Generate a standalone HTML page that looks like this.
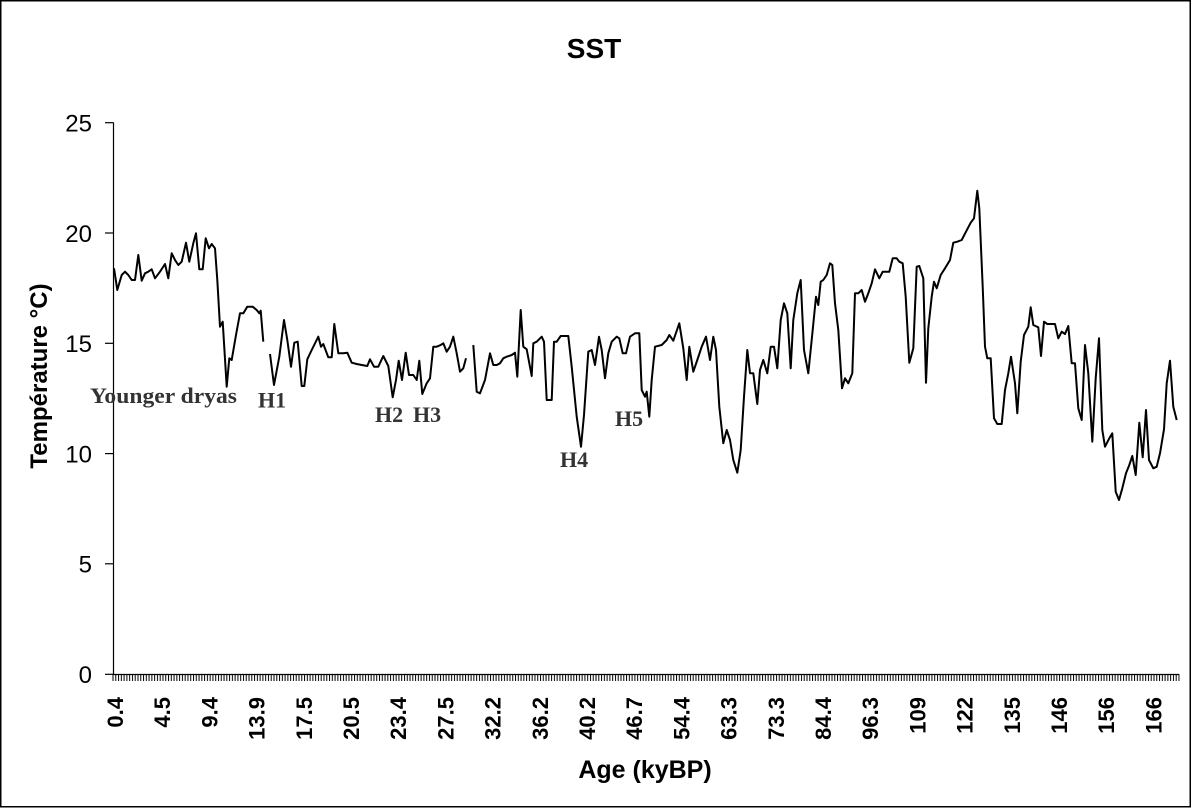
<!DOCTYPE html>
<html>
<head>
<meta charset="utf-8">
<style>
html,body{margin:0;padding:0;background:#fff;}
svg{display:block;}
text{font-family:"Liberation Sans",Arial,sans-serif;}
.ann{font-family:"Liberation Serif","Times New Roman",serif;font-weight:bold;font-size:22px;fill:#333;}
.yl{font-size:24px;fill:#000;}
.xl{font-size:22px;font-weight:bold;fill:#000;}
</style>
</head>
<body>
<svg width="1193" height="808" viewBox="0 0 1193 808" xmlns="http://www.w3.org/2000/svg">
<defs>
<pattern id="tk" x="112.5" y="674" width="2.776" height="8" patternUnits="userSpaceOnUse">
<rect x="0" y="0" width="1" height="8" fill="#000"/>
</pattern>
</defs>
<rect x="0" y="0" width="1193" height="808" fill="#fff"/>
<rect x="0.75" y="0.75" width="1189.5" height="806" fill="none" stroke="#000" stroke-width="1.5"/>

<text x="594" y="58" text-anchor="middle" font-size="28" font-weight="bold">SST</text>

<!-- Y axis -->
<line x1="113.5" y1="122.5" x2="113.5" y2="675" stroke="#000" stroke-width="1.2"/>
<g stroke="#000" stroke-width="1.2">
<line x1="105" y1="122.7" x2="113.5" y2="122.7"/>
<line x1="105" y1="233" x2="113.5" y2="233"/>
<line x1="105" y1="343.3" x2="113.5" y2="343.3"/>
<line x1="105" y1="453.6" x2="113.5" y2="453.6"/>
<line x1="105" y1="563.8" x2="113.5" y2="563.8"/>
<line x1="105" y1="674.3" x2="113.5" y2="674.3"/>
</g>
<g class="yl" text-anchor="end">
<text x="92" y="131.5">25</text>
<text x="92" y="241.8">20</text>
<text x="92" y="352.1">15</text>
<text x="92" y="462.4">10</text>
<text x="92" y="572.6">5</text>
<text x="92" y="683">0</text>
</g>
<text transform="translate(47,376) rotate(-90)" text-anchor="middle" font-size="24" font-weight="bold">Température °C)</text>

<!-- X axis -->
<line x1="113" y1="674.5" x2="1179" y2="674.5" stroke="#000" stroke-width="1.2"/>
<rect x="112.5" y="674" width="1067" height="7" fill="url(#tk)"/>
<g class="xl" text-anchor="end">
<text transform="translate(123,697) rotate(-90)">0.4</text>
<text transform="translate(170.2,697) rotate(-90)">4.5</text>
<text transform="translate(217.4,697) rotate(-90)">9.4</text>
<text transform="translate(264.6,697) rotate(-90)">13.9</text>
<text transform="translate(311.8,697) rotate(-90)">17.5</text>
<text transform="translate(359,697) rotate(-90)">20.5</text>
<text transform="translate(406.2,697) rotate(-90)">23.4</text>
<text transform="translate(453.4,697) rotate(-90)">27.5</text>
<text transform="translate(500.6,697) rotate(-90)">32.2</text>
<text transform="translate(547.8,697) rotate(-90)">36.2</text>
<text transform="translate(595,697) rotate(-90)">40.2</text>
<text transform="translate(642.2,697) rotate(-90)">46.7</text>
<text transform="translate(689.4,697) rotate(-90)">54.4</text>
<text transform="translate(736.6,697) rotate(-90)">63.3</text>
<text transform="translate(783.8,697) rotate(-90)">73.3</text>
<text transform="translate(831,697) rotate(-90)">84.4</text>
<text transform="translate(878.2,697) rotate(-90)">96.3</text>
<text transform="translate(925.4,697) rotate(-90)">109</text>
<text transform="translate(972.6,697) rotate(-90)">122</text>
<text transform="translate(1019.8,697) rotate(-90)">135</text>
<text transform="translate(1067,697) rotate(-90)">146</text>
<text transform="translate(1114.2,697) rotate(-90)">156</text>
<text transform="translate(1161.4,697) rotate(-90)">166</text>
</g>
<text x="645" y="778" text-anchor="middle" font-size="25" font-weight="bold">Age (kyBP)</text>

<!-- series -->
<g fill="none" stroke="#000" stroke-width="2" stroke-linejoin="round">
<polyline points="114,268.3 117.3,290 121.7,275 125,271.7 128.3,275 131.7,280 135,280 138.3,255 141.7,280.7 145,273.3 148.3,271.7 151.7,269.3 155,278.3 160,271.7 165,264 168.3,278.3 171.7,253.3 175,260 178.3,265 181.7,261.7 186,242.7 189.3,261.7 193.3,243.3 196,233.3 199.3,269.3 202.7,269.3 205.7,238.3 209,248.3 211.7,244 215,248.3 217.3,280 220,326.7 222.7,321.7 226.7,386.7 229.3,358.3 231.7,360 236,335 240,313.3 243.3,313.3 247.3,306.7 252.7,306.7 256.7,310 259.3,313.3 260.7,310.7 263.3,341.7"/>
<polyline points="270,354 274,385 279.3,356.7 284,320 287.3,340 291,366.7 294.3,342.7 297.7,341.7 301.7,386 304.3,386 307.3,359.3 311.7,350 318.3,336.7 321,346.7 323.3,344 328.3,357.3 331.7,357.3 334.3,324 338.3,353.3 343.3,353.3 347.3,352.7 351.7,362.7 356.7,364 361.7,365 367.3,366 370,359.3 374,366.7 378.3,366.7 383.3,356 388.3,366 392.7,397.3 396,380 398.7,360.7 402,380 405.7,352.7 409,375 413.3,375 416.7,380 419.3,360.7 422.3,394 426.7,383.3 430,378.3 433.3,346.7 436.7,346.7 440.7,345 443.3,343.3 446.7,351.7 450,346.7 453.3,336.7 456.7,353.3 460,371.7 463.3,368.3 466,358.3"/>
<polyline points="473.3,345 476.7,391.7 480,393.3 485,380 490,353.3 493.3,365 496.7,365 500,363.3 503.3,358.3 506.7,356.7 511.7,355 515,352.7 517.3,376.7 520.7,310 523.3,346.7 526.7,349.3 531.7,376 533.3,343.3 536.7,341.7 541.7,336.7 544,341.7 546.7,400 551.7,400 554,341.7 556.7,341.7 560.7,336 568.3,336 571.7,366.7 576.7,416.7 581,446.7 584,415 588.3,351.7 591.7,350 595,365 599,336.7 601.7,350 605,378.3 608.3,353.3 611.7,341.7 616.7,336.7 619.3,338.3 622.7,353.3 626,353.3 630,336.7 635,333.3 639.3,333.3 641.7,390 645,396.7 646.7,391.7 649.3,416.7 651.7,380 655,346.7 661.7,345 666.7,340 669.3,335 673.3,340.7 679.3,323.3 683.3,348.3 686.7,380 689.3,346.7 693.3,371.7 697.3,360 701.7,346.7 706,336.7 710,360 713.3,336.7 716,350 719.3,406.7 723.3,443.3 726.7,430 730,440 733.3,460 737.3,472.7 740.7,450 744,396.7 747.3,350 750,373.3 753.3,373.3 757.3,404 760,370 763.3,360 767.3,373.3 770.7,346.7 774,346.7 777.3,368.3 780.7,320 784,303.3 787.3,313.3 790.7,368.3 793.3,320 797.3,293.3 800.7,280 804,350 808.3,373.3 812.7,330 816,296.7 818.3,305 820.7,281.7 823.3,280 826.7,275 830,263.3 832.3,265 835,303.3 838.3,330 842,388.3 845,378.3 848.3,383.3 852.3,373.3 855,293.3 858.3,293.3 861.7,290 865,301.7 868.3,293.3 871.7,283.3 875,269.3 879.3,278.3 882.7,271.7 889.3,271.7 892.7,258.3 896.7,258.3 899.3,261.7 902.7,263.3 905.7,296.7 909.3,362.7 913.3,348.3 916.7,266.7 919.3,266 923.3,278.3 926,382.7 928.3,328.3 931.7,296.7 934,281.7 936.7,288.3 940.7,275 945,268.3 950,260 953.3,242.7 957.3,241.7 961.7,240 966,231.7 970.7,222.7 974,218.3 977.3,190.7 979.3,208.3 982.7,286.7 985,346.7 987.3,358.3 990.7,358.3 994,418.3 997.3,424 1001.7,424 1005,390 1008.3,373.3 1011,356.7 1015,383.3 1017.3,413.3 1020.7,361.7 1024,335 1028.3,326.7 1030.7,307.3 1033.3,325 1038.3,327.3 1041,356 1044,321.7 1047.3,324 1055,324 1058.3,338.3 1061.7,331.7 1065,334 1068.3,326 1071.7,363.3 1075,363.3 1078.3,408.3 1081.7,420 1085,345 1088.3,373.3 1092.3,441.7 1095.7,378.3 1099,338.3 1102.3,430 1105,446.7 1109.3,438.3 1112.3,433.3 1115.7,491.7 1119,500 1122.3,488.3 1126,473.3 1129.3,465 1132.3,456 1135.7,475 1139.3,422.7 1142.7,457.3 1146,410 1149,460 1153.3,468.3 1156.7,466.7 1160,453.3 1164,429.3 1166.7,383.3 1170,360.7 1173.3,406.7 1176.7,420"/>
</g>

<!-- annotations -->
<text class="ann" x="90" y="403" textLength="147" lengthAdjust="spacingAndGlyphs">Younger dryas</text>
<text class="ann" x="258" y="407.5">H1</text>
<text class="ann" x="375" y="422">H2</text>
<text class="ann" x="413" y="422">H3</text>
<text class="ann" x="560" y="467">H4</text>
<text class="ann" x="615" y="426">H5</text>
</svg>
</body>
</html>
